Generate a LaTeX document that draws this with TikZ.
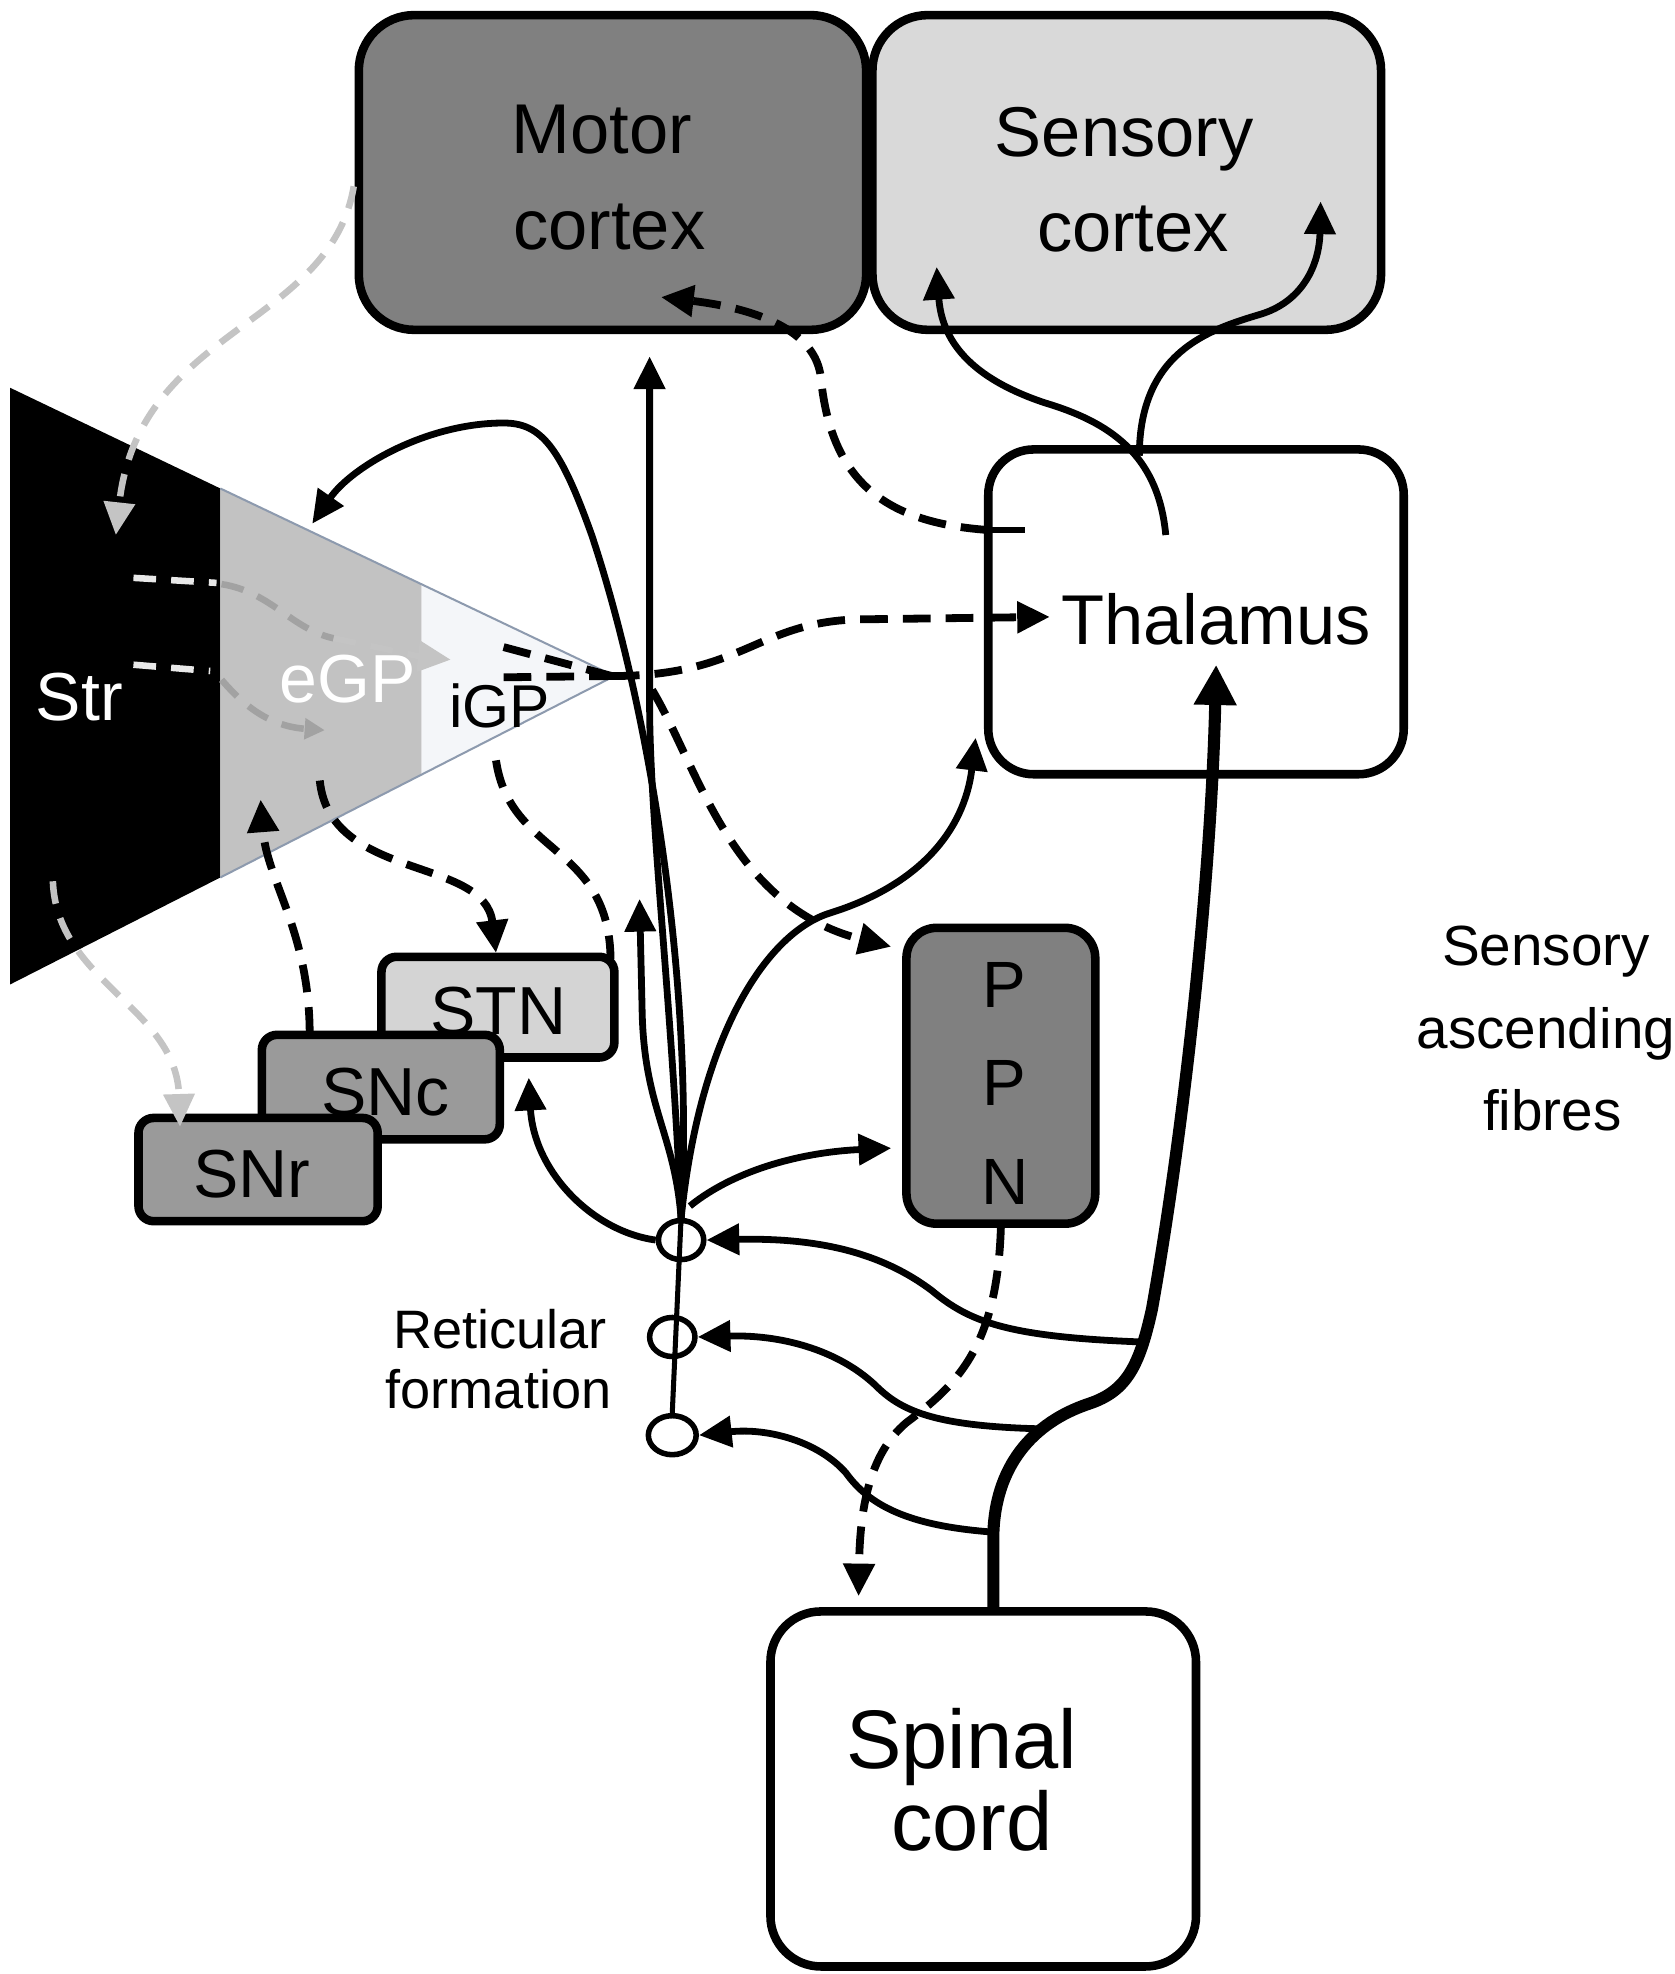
\documentclass[tikz,border=0pt]{standalone}
\usepackage{fontspec}
\setmainfont{Liberation Sans}
\usetikzlibrary{arrows.meta,shapes.geometric}
\definecolor{motorgray}{HTML}{808080}
\definecolor{sensgray}{HTML}{D9D9D9}
\definecolor{stngray}{HTML}{D4D4D4}
\definecolor{sngray}{HTML}{9A9A9A}
\definecolor{egpgray}{HTML}{C2C2C2}
\definecolor{igpfill}{HTML}{F4F6F9}
\definecolor{edgeblue}{HTML}{8D9AAE}
\definecolor{lightdash}{HTML}{C4C4C4}
\definecolor{whitedash}{HTML}{E8E8E8}
\definecolor{middash}{HTML}{A2A2A2}
\begin{document}
\begin{tikzpicture}[x=0.5pt,y=-0.5pt,
  >={Triangle[length=13pt,width=12pt]},
  bx/.style={draw=black, line width=3.4pt, inner sep=0pt, rounded corners=#1},
  lbl/.style={anchor=base, inner sep=0pt},
  f28/.style={font=\fontsize{28}{34}\selectfont},
  sol/.style={line width=2.7pt},
  dsh/.style={line width=3.1pt, dash pattern=on 11pt off 6pt},
  gdsh/.style={line width=2.6pt, dash pattern=on 9pt off 6pt, draw=lightdash},
  wdsh/.style={line width=2.6pt, dash pattern=on 9pt off 6pt, draw=whitedash},
  mdsh/.style={line width=2.6pt, dash pattern=on 9pt off 6pt, draw=middash},
  rf/.style={draw=black, ellipse, line width=2.2pt, minimum width=18pt, minimum height=15.5pt, inner sep=0pt}
]
\fill[white] (0,0) rectangle (1330,1568);
\useasboundingbox (0,0) rectangle (1330,1568);

% basal ganglia cone
\fill[black] (8,308) -- (175,388) -- (175,697) -- (8,782) -- cycle;
\fill[egpgray] (175,388) -- (335,464) -- (335,615) -- (175,697) -- cycle;
\fill[igpfill] (335,464) -- (488,537) -- (335,615) -- cycle;
\draw[edgeblue, line width=0.8pt] (175,388) -- (488,537) -- (175,697);
\coordinate (apex) at (486,537);

% boxes
\node[bx=22pt, fill=motorgray, minimum width=201.5pt, minimum height=125pt] (motor) at (486.5,137) {};
\node[bx=22pt, fill=sensgray, minimum width=202pt, minimum height=125pt] (sensory) at (895,137) {};
\node[bx=18pt, fill=white, minimum width=165pt, minimum height=129pt] (thal) at (950,486) {};
\node[bx=12pt, fill=motorgray, minimum width=75pt, minimum height=117.5pt] (ppn) at (795,854.5) {};
\node[bx=20pt, fill=white, minimum width=169pt, minimum height=141pt] (spinal) at (781,1421) {};
\node[bx=6pt, fill=stngray, minimum width=92.5pt, minimum height=40pt] (stn) at (395.5,800) {};
\node[bx=6pt, fill=sngray, minimum width=94.5pt, minimum height=41.5pt] (snc) at (302.5,863.5) {};
\node[bx=6pt, fill=sngray, minimum width=95pt, minimum height=41pt] (snr) at (205,929) {};

% reticular formation nuclei
\node[rf] (rf1) at (541,985) {};
\node[rf] (rf2) at (534,1062) {};
\node[rf, minimum width=19pt] (rf3) at (534,1140) {};
\draw[line width=2pt] (rf1.north) -- (rf3.north);

% labels
\node[lbl, f28] (tMotor) at (478,122) {Motor};
\node[lbl, f28] (tMotor2) at (484,198) {cortex};
\node[lbl, f28] (tSens) at (893,124) {Sensory};
\node[lbl, f28] (tSens2) at (900,200) {cortex};
\node[lbl, f28] (tThal) at (966,512) {Thalamus};
\node[lbl, font=\fontsize{26}{30}\selectfont] (tP1) at (798,800) {P};
\node[lbl, font=\fontsize{26}{30}\selectfont] (tP2) at (798,878) {P};
\node[lbl, font=\fontsize{26}{30}\selectfont] (tN) at (798,957) {N};
\node[lbl, font=\fontsize{33}{38}\selectfont] (tSpinal) at (764,1405) {Spinal};
\node[lbl, font=\fontsize{33}{38}\selectfont] (tCord) at (772,1470) {cord};
\node[lbl, font=\fontsize{27}{30}\selectfont] (tSTN) at (396,822) {STN};
\node[lbl, font=\fontsize{27}{30}\selectfont] (tSNc) at (306,886) {SNc};
\node[lbl, font=\fontsize{27}{30}\selectfont] (tSNr) at (200,951) {SNr};
\node[lbl, font=\fontsize{27}{30}\selectfont, text=white] (tStr) at (63,572) {Str};
\node[lbl, font=\fontsize{27}{30}\selectfont, text=white] (tEGP) at (276,558) {eGP};
\node[lbl, font=\fontsize{24}{28}\selectfont] (tIGP) at (397,578) {iGP};
\node[lbl, font=\fontsize{21.5}{24}\selectfont] (tRet1) at (397,1071) {Reticular};
\node[lbl, font=\fontsize{21.5}{24}\selectfont] (tRet2) at (396,1119) {formation};
\node[lbl, font=\fontsize{22.5}{26}\selectfont] (tAsc1) at (1228,767) {Sensory};
\node[lbl, font=\fontsize{22.5}{26}\selectfont] (tAsc2) at (1228,833) {ascending};
\node[lbl, font=\fontsize{22.5}{26}\selectfont] (tAsc3) at (1233,898) {fibres};

% named end points
\coordinate (hub) at (541,968);
\coordinate (hub2) at (548,958);
\coordinate (mcIn) at (516,283);
\coordinate (egpIn) at (248,416);
\coordinate (stnArr) at (508,714);
\coordinate (thIn) at (775,586);
\coordinate (ppnIn) at (708,912);
\coordinate (sncIn) at (420,856);
\coordinate (jn1) at (908,1066);
\coordinate (jn2) at (829,1135);
\coordinate (jn3) at (789,1217);
\coordinate (scTop) at (789,1280);
\coordinate (thUp) at (966,528);
\coordinate (thStubIn) at (814,421);
\coordinate (thStub) at (785,421);
\coordinate (mcIn2) at (525,236);
\coordinate (igp1) at (400,514);
\coordinate (igp2) at (400,538);
\coordinate (thIn2) at (834,490);
\coordinate (apexB) at (518,548);
\coordinate (ppnIn2) at (708,752);
\coordinate (scIn) at (682,1268);
\coordinate (egpOut) at (254,620);
\coordinate (stnIn) at (394,757);
\coordinate (igpOut) at (394,604);
\coordinate (stnTR) at (485,762);
\coordinate (sncTop) at (246,822);
\coordinate (egpIn2) at (207,635);
\coordinate (mcLeft) at (281,148);
\coordinate (strIn) at (92,425);
\coordinate (strOut) at (42,700);
\coordinate (snrIn) at (143,895);
\coordinate (thOut) at (926,425);
\coordinate (thBranch) at (905,362);
\coordinate (scx1) at (744,212);
\coordinate (scx2) at (1049,160);

% grey (faint) dashed projections
\draw[gdsh,->] (mcLeft) .. controls (262,260) and (110,260) .. (strIn);
\draw[gdsh,->] (strOut) .. controls (45,780) and (140,800) .. (snrIn);
\draw[wdsh] (106,459) -- (172,463);
\draw[mdsh] (176,464) .. controls (215,470) and (232,500) .. (265,507);
\draw[draw=lightdash, line width=2.4pt, dash pattern=on 9pt off 6pt, ->] (265,507) .. controls (300,514) and (330,521) .. (358,524);
\draw[wdsh] (106,528) -- (167,533);
\draw[mdsh,-{Triangle[length=8pt,width=8pt]}] (176,540) .. controls (195,562) and (215,577) .. (258,580);

% black dashed projections
\draw[dsh,->] (egpOut) .. controls (262,700) and (385,680) .. (stnIn);
\draw[dsh] (igpOut) .. controls (405,680) and (484,670) .. (stnTR);
\draw[dsh,->] (sncTop) .. controls (246,740) and (212,700) .. (egpIn2);
\draw[dsh] (igp1) -- (apex);
\draw[dsh] (igp2) -- (apex);
\draw[dsh,->] (apex) .. controls (590,537) and (600,495) .. (680,492) -- (thIn2);
\draw[dsh,->] (apexB) .. controls (555,610) and (580,720) .. (ppnIn2);
\draw[dsh,->] (ppn.south) .. controls (792,1070) and (760,1100) .. (720,1130) .. controls (690,1155) and (683,1200) .. (scIn);
\draw[sol] (thStub) -- (thStubIn);
\draw[dsh,->] (thStub) .. controls (700,415) and (660,380) .. (652,300) .. controls (648,262) and (600,245) .. (mcIn2);

% solid projections from the reticular formation
\draw[sol,->] (hub) .. controls (534,800) and (516,650) .. (516,560) -- (mcIn);
\draw[sol,->] (hub) .. controls (552,780) and (515,560) .. (470,425) .. controls (445,355) and (430,336) .. (400,336) .. controls (340,336) and (280,370) .. (egpIn);
\draw[sol,->] (hub) .. controls (536,900) and (511,880) .. (510,800) -- (stnArr);
\draw[sol,->] (hub) .. controls (556,820) and (610,740) .. (660,725) .. controls (730,703) and (766,660) .. (thIn);
\draw[sol,->] (hub2) .. controls (585,928) and (640,915) .. (ppnIn);
\draw[sol,->] (rf1.west) .. controls (470,978) and (424,930) .. (sncIn);

% sensory ascending fibres
\draw[line width=4.8pt, -{Triangle[length=16pt,width=16pt]}] (scTop) -- (789,1220) .. controls (790,1165) and (820,1130) .. (865,1115) .. controls (895,1105) and (905,1085) .. (915,1040) .. controls (940,900) and (962,700) .. (thUp);
\draw[sol,->] (jn1) .. controls (800,1062) and (770,1050) .. (740,1025) .. controls (700,995) and (650,983) .. (rf1.east);
\draw[sol,->] (jn2) .. controls (740,1133) and (715,1120) .. (695,1100) .. controls (665,1072) and (620,1060) .. (rf2.east);
\draw[sol,->] (jn3) .. controls (720,1212) and (690,1195) .. (672,1170) .. controls (650,1145) and (610,1134) .. (rf3.east);

% thalamus to sensory cortex
\draw[sol,->] (thOut) .. controls (920,360) and (880,335) .. (830,320) .. controls (770,300) and (748,270) .. (scx1);
\draw[sol,->] (thBranch) .. controls (905,280) and (960,262) .. (1000,250) .. controls (1035,240) and (1048,210) .. (scx2);
\end{tikzpicture}
\end{document}
